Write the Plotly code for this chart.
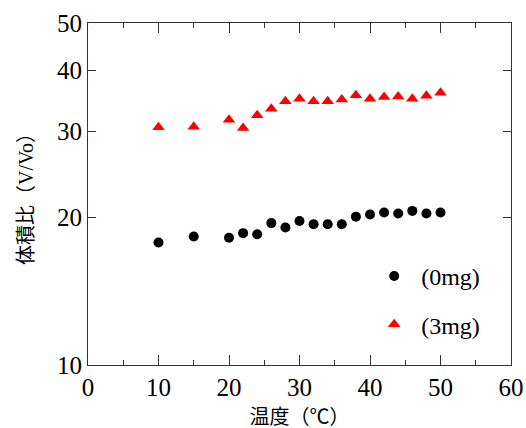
import plotly.graph_objects as go

temps = [10, 15, 20, 22, 24, 26, 28, 30, 32, 34, 36, 38, 40, 42, 44, 46, 48, 50]
ratio_0mg = [17.8, 18.3, 18.2, 18.6, 18.5, 19.5, 19.1, 19.7, 19.4, 19.4, 19.4, 20.1, 20.3, 20.5, 20.4, 20.65, 20.4, 20.5]
ratio_3mg = [30.6, 30.7, 31.7, 30.5, 32.4, 33.4, 34.6, 35.0, 34.6, 34.6, 34.9, 35.6, 35.0, 35.3, 35.4, 35.0, 35.5, 36.0]
names = ["(0mg)", "(3mg)"]
y_ticks = [10, 20, 30, 40, 50]

FONT = "Liberation Serif"
CJK = "Liberation Serif, Noto Sans CJK JP"

fig = go.Figure()
fig.add_trace(go.Scatter(x=temps, y=ratio_0mg, mode="markers", name=names[0],
                         legendgroup="a",
                         marker=dict(symbol="circle", size=10, color="black")))
fig.add_trace(go.Scatter(x=temps, y=ratio_3mg, mode="markers", name=names[1],
                         legendgroup="b",
                         marker=dict(symbol="triangle-up", size=11, color="red")))

axis_common = dict(showline=True, linecolor="#333", linewidth=1, mirror="ticks",
                   ticks="inside", tickcolor="#333", showgrid=False, zeroline=False,
                   automargin=False, ticklabeloverflow="allow",
                   tickfont=dict(family=FONT, size=25, color="black"))

fig.update_xaxes(range=[0, 60], dtick=10, tick0=0, ticklen=10,
                 minor=dict(dtick=5, ticks="inside", ticklen=5, tickcolor="#333"),
                 title=dict(text="温度（℃）", font=dict(family=CJK, size=20, color="black"), standoff=13),
                 **axis_common)
fig.update_yaxes(type="log", range=[1, 1.69897], tickvals=y_ticks,
                 ticktext=[str(v) for v in y_ticks], ticklen=8,
                 title=dict(text="体積比（V/Vo）", font=dict(family=CJK, size=20, color="black"), standoff=18),
                 **axis_common)

fig.update_layout(
    width=526, height=428,
    margin=dict(l=88, r=15, t=23, b=63),
    plot_bgcolor="white", paper_bgcolor="white",
    legend=dict(x=0.66, y=0.325, xanchor="left", yanchor="top",
                font=dict(family=FONT, size=24, color="black"),
                itemwidth=44,
                tracegroupgap=14, bgcolor="rgba(0,0,0,0)"),
)

fig.write_html("out.html", config={"displayModeBar": False},
               post_script="document.body.style.margin='0';")
